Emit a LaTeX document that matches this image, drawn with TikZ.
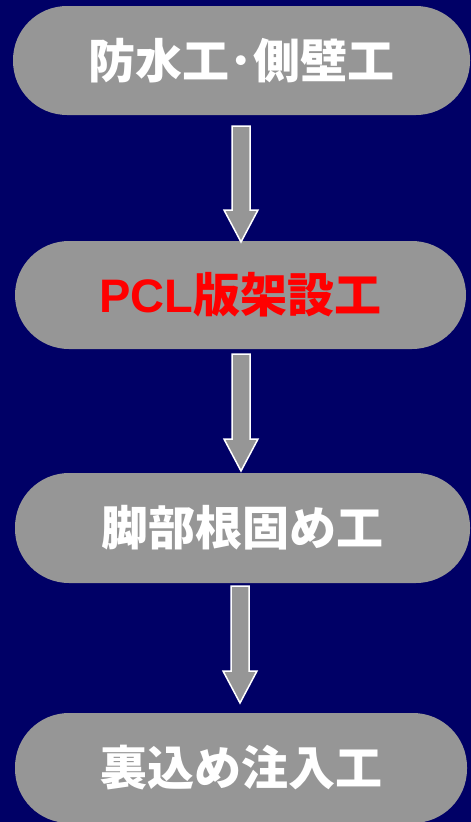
\documentclass[tikz,border=0pt]{standalone}
\usepackage{fontspec}
\setmainfont{Liberation Sans}
\newfontfamily\cjk{Noto Sans CJK JP}
\usetikzlibrary{calc}
\definecolor{bgnavy}{HTML}{000066}
\definecolor{boxgray}{HTML}{969696}
\begin{document}
\begin{tikzpicture}[x=1pt,y=-1pt,
  stepbox/.style={fill=boxgray, draw=none, rounded corners=54pt, inner sep=0pt,
    font=\fontsize{47}{50}\selectfont\cjk\bfseries, text=white},
  blk/.style={fill=boxgray, draw=white, line width=1.5pt, line join=miter}]
\fill[bgnavy] (0,0) rectangle (471,822);
\useasboundingbox (0,0) rectangle (471,822);
\node[stepbox, minimum width=457pt, minimum height=109pt] (b1) at (241.5,60.5) {防水工･側壁工};
\node[stepbox, minimum width=451pt, minimum height=108pt, text=red] (b2) at (240.5,295) {{\bfseries\fontspec{Liberation Sans}PCL}版架設工};
\node[stepbox, minimum width=455pt, minimum height=110pt] (b3) at (242.5,528) {脚部根固め工};
\node[stepbox, minimum width=452pt, minimum height=110pt] (b4) at (241,768) {裏込め注入工};
\coordinate (a1s) at (241,126); \coordinate (a1e) at (241,242);
\coordinate (a2s) at (241,354); \coordinate (a2e) at (241,471);
\coordinate (a3s) at (240,586); \coordinate (a3e) at (240,703);
\foreach \s/\e in {a1s/a1e,a2s/a2e,a3s/a3e}{
  \draw[blk] ($(\s)+(-9,0)$) -- ($(\s)+(9,0)$) -- ($(\e)+(9,-32)$) -- ($(\e)+(17,-32)$)
    -- (\e) -- ($(\e)+(-17,-32)$) -- ($(\e)+(-9,-32)$) -- cycle;
}
\end{tikzpicture}
\end{document}
